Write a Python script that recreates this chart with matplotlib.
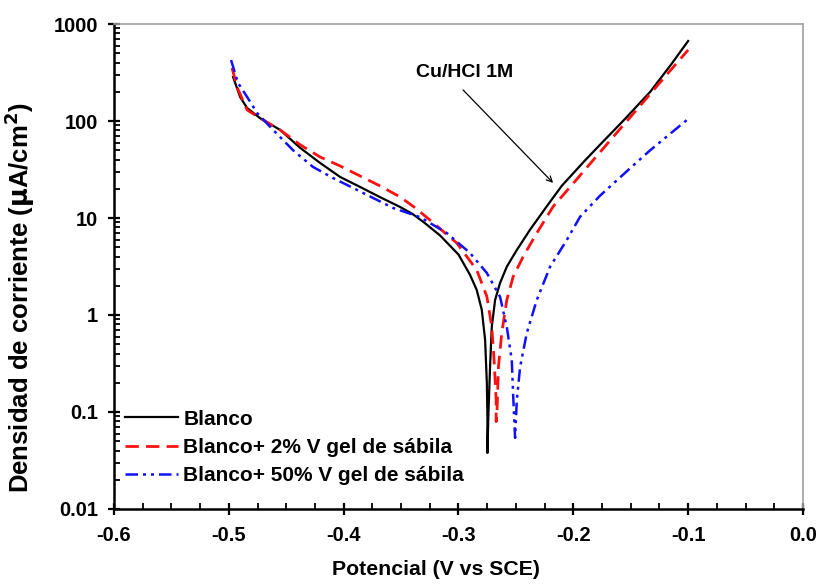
import matplotlib
matplotlib.use("Agg")
import matplotlib.pyplot as plt
from matplotlib.ticker import MultipleLocator, LogLocator, NullFormatter, FixedLocator, FixedFormatter

plt.rcParams['font.family'] = ['Liberation Sans', 'DejaVu Sans']

# Blanco (black)
blanco_v = [-0.4963, -0.4902, -0.4841, -0.4728, -0.4554, -0.4380, -0.4206, -0.4031, -0.3857,
            -0.3683, -0.3509, -0.3400, -0.3300, -0.3160, -0.3000, -0.2900, -0.2841, -0.2797,
            -0.2768, -0.2753, -0.2748, -0.2748, -0.2740, -0.2725, -0.2710, -0.2681, -0.2638,
            -0.2579, -0.2492, -0.2376, -0.2231, -0.2100, -0.1900, -0.1767, -0.1550, -0.1330,
            -0.1150, -0.1000]
blanco_i = [284, 177, 136, 107, 81, 53, 37, 26.5, 20.9,
            16.4, 13.0, 11.0, 9.0, 6.6, 4.2, 2.6, 1.81, 1.13,
            0.55, 0.199, 0.0895, 0.0378, 0.0895, 0.293, 0.757, 1.43, 2.14,
            3.15, 4.68, 7.6, 13.2, 21.5, 39, 57, 105, 200,
            380, 668]

# Blanco + 2% V gel de sábila (red)
gel2_v = [-0.4972, -0.4929, -0.4841, -0.4728, -0.4554, -0.4380, -0.4206, -0.4031, -0.3857,
          -0.3683, -0.3509, -0.3380, -0.3247, -0.3015, -0.2841, -0.2753, -0.2710, -0.2690,
          -0.2672, -0.2672, -0.2664, -0.2652, -0.2623, -0.2579, -0.2524, -0.2437, -0.2318,
          -0.2176, -0.2000, -0.1800, -0.1600, -0.1400, -0.1200, -0.1000]
gel2_i = [352, 224, 130, 107, 81, 57, 42.6, 34.4, 27.1,
          21.4, 16.5, 12.8, 9.5, 5.52, 2.91, 1.55, 0.757, 0.343,
          0.133, 0.0795, 0.105, 0.293, 0.652, 1.43, 2.48, 3.99, 7.0,
          13.1, 22.8, 43, 81, 152, 288, 540]

# Blanco + 50% V gel de sábila (blue)
gel50_v = [-0.4981, -0.4920, -0.4841, -0.4754, -0.4615, -0.4441, -0.4267, -0.4092, -0.3918,
           -0.3744, -0.3570, -0.3334, -0.3102, -0.2899, -0.2753, -0.2638, -0.2579, -0.2536,
           -0.2522, -0.2507, -0.2492, -0.2463, -0.2405, -0.2318, -0.2202, -0.2057, -0.1941,
           -0.1767, -0.1500, -0.1330, -0.1000]
gel50_i = [425, 247, 177, 121, 81, 50, 33.6, 25.8, 20.4,
           16.1, 12.7, 10.2, 7.0, 4.35, 2.71, 1.54, 0.75, 0.343,
           0.133, 0.054, 0.133, 0.293, 0.652, 1.43, 3.15, 5.93, 10.3,
           17, 33, 50, 105]

x_ticks = [-0.6, -0.5, -0.4, -0.3, -0.2, -0.1, 0.0]
x_ticklabels = ['-0.6', '-0.5', '-0.4', '-0.3', '-0.2', '-0.1', '0.0']
y_ticks = [0.01, 0.1, 1, 10, 100, 1000]
y_ticklabels = ['0.01', '0.1', '1', '10', '100', '1000']

annot_text = 'Cu/HCl 1M'
annot_text_pos = (-0.2943, 320)
annot_tail = (-0.296, 209)
annot_tip = (-0.2176, 23)

fig = plt.figure(figsize=(8.21, 5.87), dpi=100)
ax = fig.add_axes([0.1389, 0.1329, 0.8391, 0.8262])

ax.plot(blanco_v, blanco_i, color='black', lw=1.6, label='Blanco')
ax.plot(gel2_v, gel2_i, color='#ff1010', lw=2.0, ls=(0, (4.8, 2.6)), label='Blanco+ 2% V gel de sábila')
ax.plot(gel50_v, gel50_i, color='#1010ff', lw=1.8, ls=(0, (5, 2, 1.2, 2, 1.2, 2)),
        label='Blanco+ 50% V gel de sábila')

ax.set_yscale('log')
ax.set_xlim(-0.6, 0.0)
ax.set_ylim(0.01, 1000)

ax.xaxis.set_major_locator(FixedLocator(x_ticks))
ax.xaxis.set_major_formatter(FixedFormatter(x_ticklabels))
ax.xaxis.set_minor_locator(MultipleLocator(0.025))
ax.yaxis.set_major_locator(FixedLocator(y_ticks))
ax.yaxis.set_major_formatter(FixedFormatter(y_ticklabels))
ax.yaxis.set_minor_locator(LogLocator(base=10, subs=range(2, 10), numticks=20))
ax.yaxis.set_minor_formatter(NullFormatter())

ax.tick_params(which='major', direction='inout', length=9, width=1.6,
               labelsize=14.5, top=False, right=False, pad=7.5)
ax.tick_params(axis='y', which='major', pad=6.8)
ax.tick_params(which='minor', direction='in', length=4, width=1.3, top=False, right=False)
for lab in ax.get_xticklabels() + ax.get_yticklabels():
    lab.set_fontweight('bold')

for s in ['left', 'bottom']:
    ax.spines[s].set_linewidth(1.8)
    ax.spines[s].set_color('black')
for s in ['top', 'right']:
    ax.spines[s].set_linewidth(1.2)
    ax.spines[s].set_color('#a0a0a0')

ax.set_xlabel('Potencial (V vs SCE)', fontsize=15.3, fontweight='bold')
ax.xaxis.set_label_coords(0.467, -0.106)
ax.set_ylabel(r'Densidad de corriente ($\mathbf{\mu}$A/cm$^\mathbf{2}$)', fontsize=18.5,
              fontweight='bold')
ax.yaxis.set_label_coords(-0.112, 0.437)

leg = ax.legend(loc='upper left', bbox_to_anchor=(0.016, 0.205), frameon=False,
                prop={'weight': 'bold', 'size': 15}, handlelength=2.55,
                handletextpad=0.25, labelspacing=0.45, borderaxespad=0, borderpad=0)

ax.text(annot_text_pos[0], annot_text_pos[1], annot_text, fontsize=14, fontweight='bold',
        ha='center', va='center')
ax.annotate('', xy=annot_tip, xytext=annot_tail,
            arrowprops=dict(arrowstyle='->', color='black', lw=0.9,
                            shrinkA=0, shrinkB=0))

fig.savefig('out.png', dpi=100)
